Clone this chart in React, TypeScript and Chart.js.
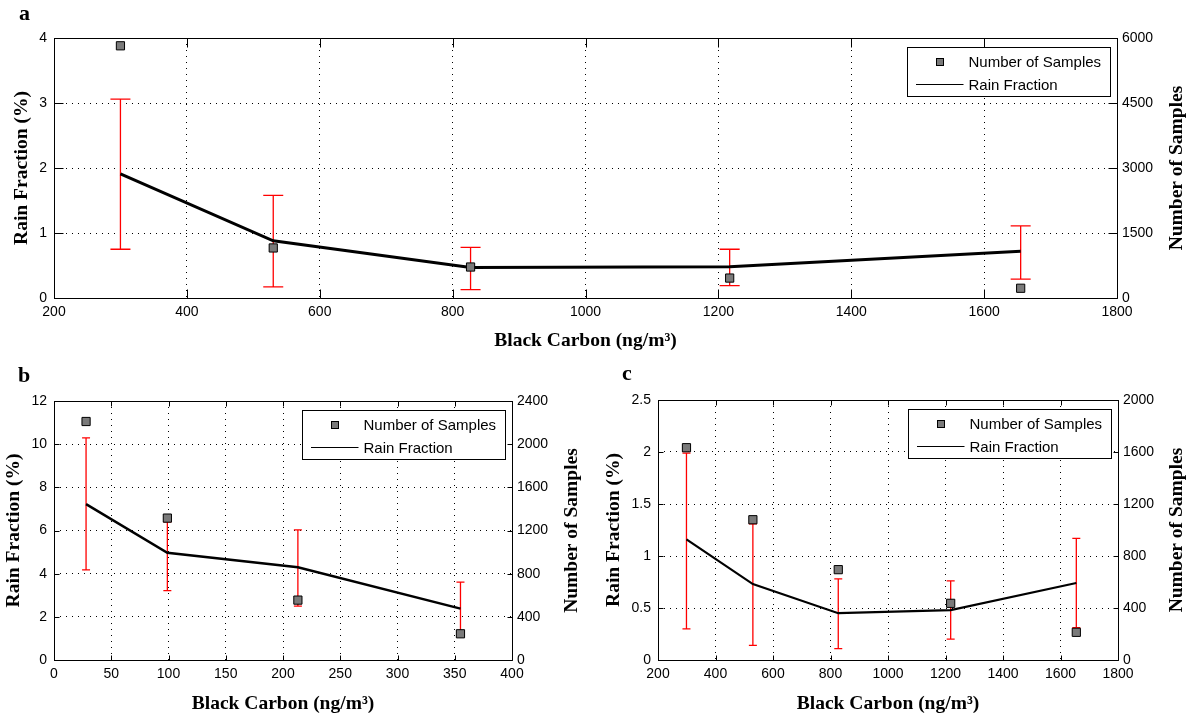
import React, { useEffect, useRef } from "react";
import { Chart, registerables } from "chart.js";

Chart.register(...registerables);

// ---------------- Panel a ----------------
const bcA = [300, 530, 827, 1217, 1655];
const rainA = [1.91, 0.88, 0.47, 0.48, 0.72];
const rainHiA = [3.06, 1.58, 0.78, 0.75, 1.11];
const rainLoA = [0.75, 0.17, 0.13, 0.19, 0.29];
const samplesA = [5820, 1155, 715, 460, 225];
const xTicksA = [200, 400, 600, 800, 1000, 1200, 1400, 1600, 1800];
const yTicksA = [0, 1, 2, 3, 4];
const y2TicksA = [0, 1500, 3000, 4500, 6000];

// ---------------- Panel b ----------------
const bcB = [28, 99, 213, 355];
const rainB = [7.22, 4.97, 4.3, 2.38];
const rainHiB = [10.29, 6.4, 6.03, 3.61];
const rainLoB = [4.18, 3.21, 2.5, 1.3];
const samplesB = [2210, 1315, 555, 243];
const xTicksB = [0, 50, 100, 150, 200, 250, 300, 350, 400];
const yTicksB = [0, 2, 4, 6, 8, 10, 12];
const y2TicksB = [0, 400, 800, 1200, 1600, 2000, 2400];

// ---------------- Panel c ----------------
const bcC = [299, 530, 827, 1218, 1655];
const rainC = [1.16, 0.73, 0.45, 0.48, 0.74];
const rainHiC = [1.99, 1.31, 0.78, 0.76, 1.17];
const rainLoC = [0.3, 0.14, 0.11, 0.2, 0.31];
const samplesC = [1633, 1079, 695, 436, 213];
const xTicksC = [200, 400, 600, 800, 1000, 1200, 1400, 1600, 1800];
const yTicksC = [0, 0.5, 1, 1.5, 2, 2.5];
const y2TicksC = [0, 400, 800, 1200, 1600, 2000];

const xTitle = "Black Carbon (ng/m\u00B3)";
const yTitle = "Rain Fraction (%)";
const y2Title = "Number of Samples";
const samplesLabel = "Number of Samples";
const rainLabel = "Rain Fraction";

type Spec = {
  letter: string;
  x: number[];
  rain: number[];
  hi: number[];
  lo: number[];
  samples: number[];
  xTicks: number[];
  yTicks: number[];
  y2Ticks: number[];
  left: number;
  top: number;
  w: number;
  h: number;
  padTop: number;
  leftW: number;
  rightW: number;
  bottomH: number;
  tickLen: number;
  cap: number;
  lineW: number;
  letterX: number;
  letterY: number;
  leftTitleX: number;
  rightTitleX: number;
  bottomTitleY: number;
};

const specs: Spec[] = [
  {
    letter: "a", x: bcA, rain: rainA, hi: rainHiA, lo: rainLoA, samples: samplesA,
    xTicks: xTicksA, yTicks: yTicksA, y2Ticks: y2TicksA,
    left: 0, top: 0, w: 1200, h: 360, padTop: 38, leftW: 54, rightW: 83, bottomH: 62,
    tickLen: 9, cap: 10, lineW: 3, letterX: 19, letterY: 20,
    leftTitleX: 22, rightTitleX: 1177, bottomTitleY: 341,
  },
  {
    letter: "b", x: bcB, rain: rainB, hi: rainHiB, lo: rainLoB, samples: samplesB,
    xTicks: xTicksB, yTicks: yTicksB, y2Ticks: y2TicksB,
    left: 0, top: 360, w: 600, h: 360, padTop: 41, leftW: 54, rightW: 88, bottomH: 60,
    tickLen: 5, cap: 4, lineW: 2.5, letterX: 18, letterY: 22,
    leftTitleX: 14, rightTitleX: 572, bottomTitleY: 344,
  },
  {
    letter: "c", x: bcC, rain: rainC, hi: rainHiC, lo: rainLoC, samples: samplesC,
    xTicks: xTicksC, yTicks: yTicksC, y2Ticks: y2TicksC,
    left: 600, top: 360, w: 600, h: 360, padTop: 40, leftW: 58, rightW: 82, bottomH: 60,
    tickLen: 5, cap: 4, lineW: 2.2, letterX: 22, letterY: 20,
    leftTitleX: 14, rightTitleX: 577, bottomTitleY: 344,
  },
];

const SANS = '"Liberation Sans", Arial, sans-serif';
const SERIF = '"Liberation Serif", "Times New Roman", serif';

function buildConfig(spec: Spec): any {
  const decor = {
    id: "decor",
    beforeDatasetsDraw(chart: any) {
      const { ctx } = chart;
      const xs = chart.scales.x;
      const ys = chart.scales.y;
      ctx.save();
      ctx.strokeStyle = "#ff0000";
      ctx.lineWidth = 1.3;
      spec.x.forEach((xv, i) => {
        const px = xs.getPixelForValue(xv);
        const pt = ys.getPixelForValue(spec.hi[i]);
        const pb = ys.getPixelForValue(spec.lo[i]);
        ctx.beginPath();
        ctx.moveTo(px, pt);
        ctx.lineTo(px, pb);
        ctx.moveTo(px - spec.cap, pt);
        ctx.lineTo(px + spec.cap, pt);
        ctx.moveTo(px - spec.cap, pb);
        ctx.lineTo(px + spec.cap, pb);
        ctx.stroke();
      });
      ctx.restore();
    },
    afterDraw(chart: any) {
      const { ctx, chartArea: ca } = chart;
      const xs = chart.scales.x;
      const ys = chart.scales.y;
      const L = Math.round(ca.left) + 0.5;
      const R = Math.round(ca.right) + 0.5;
      const T = Math.round(ca.top) + 0.5;
      const B = Math.round(ca.bottom) + 0.5;
      ctx.save();
      ctx.strokeStyle = "#000";
      ctx.lineWidth = 1;
      ctx.beginPath();
      ctx.rect(L, T, R - L, B - T);
      const tl = spec.tickLen;
      xs.ticks.forEach((t: any) => {
        const px = Math.round(xs.getPixelForValue(t.value)) + 0.5;
        ctx.moveTo(px, B);
        ctx.lineTo(px, B - tl);
        ctx.moveTo(px, T);
        ctx.lineTo(px, T + tl);
      });
      ys.ticks.forEach((t: any) => {
        const py = Math.round(ys.getPixelForValue(t.value)) + 0.5;
        ctx.moveTo(L, py);
        ctx.lineTo(L + tl, py);
        ctx.moveTo(R, py);
        ctx.lineTo(R - tl, py);
      });
      ctx.stroke();

      // legend
      const lw = 203;
      const lh = 49;
      const bx = Math.round(ca.right - 7 - lw) + 0.5;
      const by = Math.round(ca.top + 8.5) + 0.5;
      ctx.fillStyle = "#fff";
      ctx.fillRect(bx, by, lw, lh);
      ctx.strokeStyle = "#000";
      ctx.lineWidth = 1;
      ctx.strokeRect(bx, by, lw, lh);
      ctx.fillStyle = "#7a7a7a";
      ctx.fillRect(bx + 29, by + 11, 7, 7);
      ctx.strokeRect(bx + 29, by + 11, 7, 7);
      ctx.beginPath();
      ctx.moveTo(bx + 8.5, by + 37);
      ctx.lineTo(bx + 56, by + 37);
      ctx.stroke();
      ctx.fillStyle = "#000";
      ctx.font = `15px ${SANS}`;
      ctx.textAlign = "left";
      ctx.textBaseline = "middle";
      const ds = chart.data.datasets;
      ctx.fillText(ds[0].label, bx + 61, by + 15.5);
      ctx.fillText(ds[1].label, bx + 61, by + 38);

      // axis titles
      ctx.font = `bold 19.5px ${SERIF}`;
      ctx.textAlign = "center";
      ctx.textBaseline = "middle";
      ctx.fillText(xTitle, (ca.left + ca.right) / 2, spec.bottomTitleY);
      const cy = (ca.top + ca.bottom) / 2;
      ctx.save();
      ctx.translate(spec.leftTitleX, cy);
      ctx.rotate(-Math.PI / 2);
      ctx.fillText(yTitle, 0, 0);
      ctx.restore();
      ctx.save();
      ctx.translate(spec.rightTitleX, cy);
      ctx.rotate(-Math.PI / 2);
      ctx.fillText(y2Title, 0, 0);
      ctx.restore();

      // panel letter
      ctx.font = `bold 22px ${SERIF}`;
      ctx.textAlign = "left";
      ctx.textBaseline = "alphabetic";
      ctx.fillText(spec.letter, spec.letterX, spec.letterY);
      ctx.restore();
    },
  };

  const tickFont = { family: SANS, size: 14 };
  const fmt = (v: any) => String(v);

  return {
    type: "line",
    data: {
      datasets: [
        {
          type: "scatter",
          label: samplesLabel,
          data: spec.x.map((xv, i) => ({ x: xv, y: spec.samples[i] })),
          yAxisID: "y1",
          showLine: false,
          pointStyle: "rect",
          pointRadius: 5.8,
          backgroundColor: "#7a7a7a",
          borderColor: "#000",
          borderWidth: 1,
        },
        {
          type: "line",
          label: rainLabel,
          data: spec.x.map((xv, i) => ({ x: xv, y: spec.rain[i] })),
          yAxisID: "y",
          borderColor: "#000",
          borderWidth: spec.lineW,
          pointRadius: 0,
          tension: 0,
          fill: false,
        },
      ],
    },
    options: {
      responsive: false,
      animation: false,
      events: [],
      layout: { padding: { top: spec.padTop, left: 0, right: 0, bottom: 0 } },
      plugins: { legend: { display: false }, tooltip: { enabled: false }, title: { display: false } },
      scales: {
        x: {
          type: "linear",
          position: "bottom",
          min: spec.xTicks[0],
          max: spec.xTicks[spec.xTicks.length - 1],
          afterBuildTicks: (s: any) => {
            s.ticks = spec.xTicks.map((v) => ({ value: v }));
          },
          afterFit: (s: any) => {
            s.height = spec.bottomH;
          },
          ticks: { callback: fmt, color: "#000", font: tickFont, padding: 6, maxRotation: 0, autoSkip: false },
          grid: { color: "#000", lineWidth: 1, drawTicks: false },
          border: { display: false, dash: [1, 5] },
        },
        y: {
          type: "linear",
          position: "left",
          min: spec.yTicks[0],
          max: spec.yTicks[spec.yTicks.length - 1],
          afterBuildTicks: (s: any) => {
            s.ticks = spec.yTicks.map((v) => ({ value: v }));
          },
          afterFit: (s: any) => {
            s.width = spec.leftW;
          },
          ticks: { callback: fmt, color: "#000", font: tickFont, padding: 7, autoSkip: false },
          grid: { color: "#000", lineWidth: 1, drawTicks: false },
          border: { display: false, dash: [1, 5] },
        },
        y1: {
          type: "linear",
          position: "right",
          min: spec.y2Ticks[0],
          max: spec.y2Ticks[spec.y2Ticks.length - 1],
          afterBuildTicks: (s: any) => {
            s.ticks = spec.y2Ticks.map((v) => ({ value: v }));
          },
          afterFit: (s: any) => {
            s.width = spec.rightW;
          },
          ticks: { callback: fmt, color: "#000", font: tickFont, padding: 5, autoSkip: false },
          grid: { display: false, drawTicks: false },
          border: { display: false },
        },
      },
    },
    plugins: [decor],
  };
}

function Panel({ spec }: { spec: Spec }) {
  const ref = useRef<HTMLCanvasElement | null>(null);
  useEffect(() => {
    const canvas = ref.current;
    if (!canvas) return;
    const chart = new Chart(canvas, buildConfig(spec));
    return () => chart.destroy();
  }, [spec]);
  return (
    <canvas
      ref={ref}
      width={spec.w}
      height={spec.h}
      style={{ position: "absolute", left: spec.left, top: spec.top, width: spec.w, height: spec.h }}
    />
  );
}

export default function App() {
  return (
    <div style={{ position: "absolute", left: 0, top: 0, width: 1200, height: 720, background: "#fff" }}>
      {specs.map((s) => (
        <Panel key={s.letter} spec={s} />
      ))}
    </div>
  );
}
